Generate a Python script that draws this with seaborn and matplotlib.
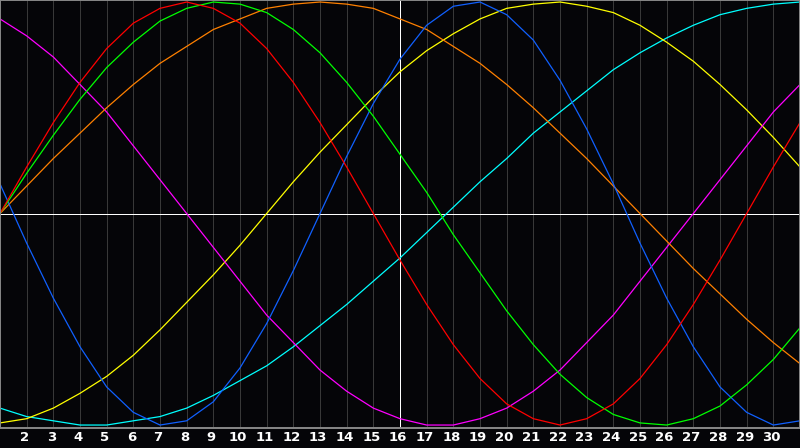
import pandas as pd
import seaborn as sns
import matplotlib.pyplot as plt
import matplotlib.transforms as mtransforms

days = list(range(1, 32))

# values (-1 .. 1), one per day
red = [0.00, 0.22, 0.43, 0.62, 0.78, 0.90, 0.97, 1.00, 0.97, 0.90, 0.78, 0.62, 0.43, 0.22, 0.00, -0.22,
       -0.43, -0.62, -0.78, -0.90, -0.97, -1.00, -0.97, -0.90, -0.78, -0.62, -0.43, -0.22, 0.00, 0.22, 0.43]
green = [0.00, 0.19, 0.37, 0.54, 0.69, 0.81, 0.91, 0.97, 1.00, 0.99, 0.95, 0.87, 0.76, 0.62, 0.46, 0.28,
         0.10, -0.10, -0.28, -0.46, -0.62, -0.76, -0.87, -0.95, -0.99, -1.00, -0.97, -0.91, -0.81, -0.69, -0.54]
orange = [0.00, 0.13, 0.26, 0.38, 0.50, 0.61, 0.71, 0.79, 0.87, 0.92, 0.97, 0.99, 1.00, 0.99, 0.97, 0.92,
          0.87, 0.79, 0.71, 0.61, 0.50, 0.38, 0.26, 0.13, 0.00, -0.13, -0.26, -0.38, -0.50, -0.61, -0.71]
blue = [0.14, -0.14, -0.40, -0.63, -0.82, -0.94, -1.00, -0.98, -0.89, -0.73, -0.52, -0.27, 0.00, 0.27, 0.52, 0.73,
        0.89, 0.98, 1.00, 0.94, 0.82, 0.63, 0.40, 0.14, -0.14, -0.40, -0.63, -0.82, -0.94, -1.00, -0.98]
yellow = [-0.99, -0.97, -0.92, -0.85, -0.77, -0.67, -0.55, -0.42, -0.29, -0.15, 0.00, 0.15, 0.29, 0.42, 0.55, 0.67,
          0.77, 0.85, 0.92, 0.97, 0.99, 1.00, 0.98, 0.95, 0.89, 0.81, 0.72, 0.61, 0.49, 0.36, 0.22]
cyan = [-0.92, -0.96, -0.98, -1.00, -1.00, -0.98, -0.96, -0.92, -0.86, -0.79, -0.72, -0.63, -0.53, -0.43, -0.32, -0.21,
        -0.09, 0.03, 0.15, 0.26, 0.38, 0.48, 0.58, 0.68, 0.76, 0.83, 0.89, 0.94, 0.97, 0.99, 1.00]
magenta = [0.92, 0.84, 0.74, 0.61, 0.48, 0.32, 0.16, 0.00, -0.16, -0.32, -0.48, -0.61, -0.74, -0.84, -0.92, -0.97,
           -1.00, -1.00, -0.97, -0.92, -0.84, -0.74, -0.61, -0.48, -0.32, -0.16, 0.00, 0.16, 0.32, 0.48, 0.61]

tick_days = list(range(2, 31))

series = {"cyan": cyan, "yellow": yellow, "magenta": magenta, "orange": orange,
          "blue": blue, "green": green, "red": red}
colors = {"red": "#ff0000", "green": "#00ff00", "orange": "#ff8000", "blue": "#1060ff",
          "yellow": "#ffff00", "cyan": "#00ffff", "magenta": "#ff00ff"}

df = pd.concat([pd.DataFrame({"day": days, "value": v, "curve": k}) for k, v in series.items()])

px = 0.72  # one pixel at 100 dpi
bg = "#050508"
fig = plt.figure(figsize=(8, 4.48), dpi=100, facecolor=bg)
ax = fig.add_axes([0, 20 / 448, 1, 428 / 448])
ax.set_facecolor(bg)

for d in tick_days:
    ax.axvline(d, color="#383838", lw=px, zorder=0, antialiased=False)
ax.axvline(16, color="white", lw=px, zorder=1, antialiased=False)
ax.axhline(0, color="white", lw=px, zorder=1, antialiased=False)

n_before = len(ax.lines)
sns.lineplot(data=df, x="day", y="value", hue="curve", palette=colors, legend=False, ax=ax, zorder=2)
for ln in ax.lines[n_before:]:
    ln.set_linewidth(0.9)
    ln.set_antialiased(True)

ax.set_xlim(1, 31)
ax.set_ylim(-1.014, 1.0095)
ax.set_xticks(tick_days)
ax.set_xticklabels([str(d) for d in tick_days], color="white", fontsize=9.5, fontweight="bold")
ax.set_yticks([])
ax.tick_params(axis="x", length=0, pad=2)
offset = mtransforms.ScaledTranslation(-2 / 100, 0, fig.dpi_scale_trans)
for lab in ax.get_xticklabels():
    lab.set_transform(lab.get_transform() + offset)
ax.set_xlabel("")
ax.set_ylabel("")
for s in ax.spines.values():
    s.set_color("#888888")
    s.set_linewidth(1.4)

fig.savefig("out.png", dpi=100, facecolor=bg)
